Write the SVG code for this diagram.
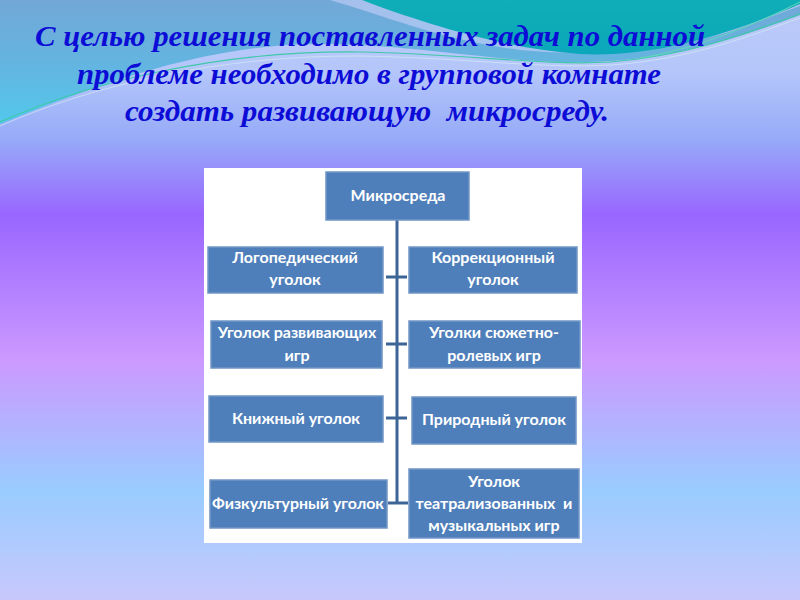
<svg xmlns="http://www.w3.org/2000/svg" width="800" height="600" viewBox="0 0 800 600">
<defs>
<linearGradient id="bg" x1="0" y1="0" x2="0" y2="600" gradientUnits="userSpaceOnUse">
<stop offset="0" stop-color="#bccaf8"/>
<stop offset="0.12" stop-color="#b4c6fa"/>
<stop offset="0.233" stop-color="#96aaf8"/>
<stop offset="0.358" stop-color="#9966ff"/>
<stop offset="0.6" stop-color="#cc99ff"/>
<stop offset="0.817" stop-color="#99ccff"/>
<stop offset="1" stop-color="#c8c8fc"/>
</linearGradient>
<linearGradient id="band" x1="0" y1="0" x2="0" y2="125" gradientUnits="userSpaceOnUse">
<stop offset="0" stop-color="#72a8d8"/>
<stop offset="0.5" stop-color="#64b4e0"/>
<stop offset="1" stop-color="#52c8ec"/>
</linearGradient>
<linearGradient id="teal" x1="0" y1="0" x2="0" y2="60" gradientUnits="userSpaceOnUse">
<stop offset="0" stop-color="#10aeb6"/>
<stop offset="1" stop-color="#0aa6bc"/>
</linearGradient>
<style>
.title{font-family:"Liberation Serif","DejaVu Serif",serif;font-weight:bold;font-style:italic;font-size:30px;fill:#0c0cd6;white-space:pre}
.box{fill:#4f7fbb;stroke:#7096c6;stroke-width:1.5}
.lbl{font-family:Lato,"Open Sans","Liberation Sans",sans-serif;font-weight:bold;font-size:16px;fill:#ffffff;text-anchor:middle;white-space:pre}
.con{stroke:#3d6497;stroke-width:3;fill:none}
</style>
</defs>
<g id="background">
<rect x="0" y="0" width="800" height="600" fill="url(#bg)"/>
<path d="M0,0 H800 V15 C740,38 670,60 590,62 C500,64 420,44 320,44 C200,44 90,88 0,124 Z" fill="url(#band)"/>
<path d="M330,0 C380,14 440,40 520,50 C600,58 680,50 740,28 L800,6 V0 Z" fill="#c8d0fa" opacity="0.6"/>
<path d="M362,0 C420,22 500,48 580,54 C660,58 740,30 800,4 V0 Z" fill="url(#teal)"/>
<path d="M0,122 C90,82 220,50 360,52 C470,54 540,66 610,62 C690,56 750,32 800,14" fill="none" stroke="#3fc8a8" stroke-width="1.2"/>
<path d="M0,126 C90,86 220,55 360,56 C470,58 540,69 612,65 C692,59 752,35 800,18" fill="none" stroke="#d8f0f0" stroke-width="0.8" opacity="0.8"/>
<path d="M640,58 C700,48 760,22 800,2" fill="none" stroke="#60d8b8" stroke-width="1"/>
</g>
<g id="title">
<text class="title" x="35" y="46" textLength="670" lengthAdjust="spacingAndGlyphs">С целью решения поставленных задач по данной</text>
<text class="title" x="77" y="84" textLength="584" lengthAdjust="spacingAndGlyphs">проблеме необходимо в групповой комнате</text>
<text class="title" x="125" y="121" textLength="484" lengthAdjust="spacingAndGlyphs" xml:space="preserve">создать развивающую  микросреду.</text>
</g>
<g id="diagram">
<rect x="204" y="168" width="378" height="375" fill="#ffffff"/>
<g id="connectors">
<line class="con" x1="397" y1="220" x2="397" y2="503"/>
<line class="con" x1="386" y1="277" x2="407" y2="277"/>
<line class="con" x1="386" y1="344" x2="407" y2="344"/>
<line class="con" x1="386" y1="418" x2="407" y2="418"/>
<line class="con" x1="388" y1="503" x2="408" y2="503"/>
</g>
<g id="n-root">
<rect class="box" x="326" y="172" width="143" height="48"/>
<text class="lbl" x="398" y="201">Микросреда</text>
</g>
<g id="n-logo">
<rect class="box" x="208" y="247" width="175" height="46"/>
<text class="lbl" x="295" y="263">Логопедический</text>
<text class="lbl" x="295" y="285">уголок</text>
</g>
<g id="n-korr">
<rect class="box" x="409" y="247" width="168" height="46"/>
<text class="lbl" x="493" y="263">Коррекционный</text>
<text class="lbl" x="493" y="285">уголок</text>
</g>
<g id="n-razv">
<rect class="box" x="211" y="321" width="171" height="47"/>
<text class="lbl" x="297" y="338">Уголок развивающих</text>
<text class="lbl" x="297" y="361">игр</text>
</g>
<g id="n-syuzh">
<rect class="box" x="409" y="321" width="171" height="47"/>
<text class="lbl" x="494" y="338">Уголки сюжетно-</text>
<text class="lbl" x="494" y="361">ролевых игр</text>
</g>
<g id="n-knizh">
<rect class="box" x="209" y="396" width="174" height="46"/>
<text class="lbl" x="296" y="424">Книжный уголок</text>
</g>
<g id="n-prir">
<rect class="box" x="412" y="397" width="164" height="47"/>
<text class="lbl" x="494" y="425">Природный уголок</text>
</g>
<g id="n-fiz">
<rect class="box" x="210" y="480" width="177" height="48"/>
<text class="lbl" x="298" y="509" textLength="172" lengthAdjust="spacingAndGlyphs">Физкультурный уголок</text>
</g>
<g id="n-teatr">
<rect class="box" x="409" y="469" width="170" height="69"/>
<text class="lbl" x="494" y="487">Уголок</text>
<text class="lbl" x="494" y="509" xml:space="preserve">театрализованных  и</text>
<text class="lbl" x="494" y="531">музыкальных игр</text>
</g>
</g>
</svg>
